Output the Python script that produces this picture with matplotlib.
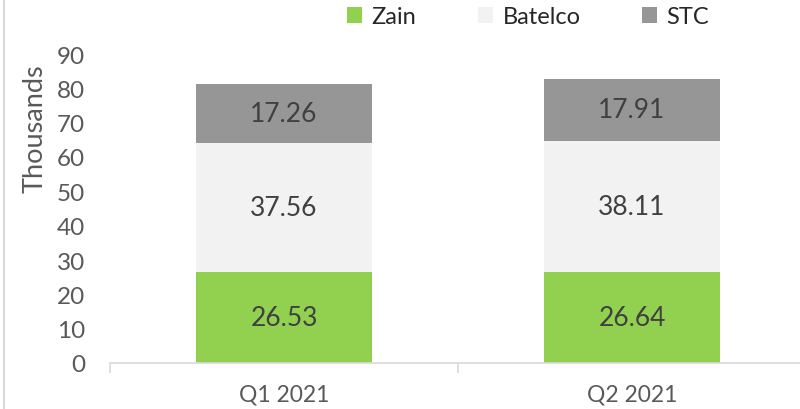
import matplotlib.pyplot as plt
import numpy as np

# data (thousands)
quarters = ['Q1 2021', 'Q2 2021']
zain = [26.53, 26.64]
batelco = [37.56, 38.11]
stc = [17.26, 17.91]

series = ['Zain', 'Batelco', 'STC']
colors = ['#92D050', '#F2F2F2', '#969696']

plt.rcParams['font.family'] = ['Lato', 'DejaVu Sans']

fig = plt.figure(figsize=(8, 4.1), dpi=100)
ax = fig.add_axes([110 / 800, 1 - 364 / 410, 696 / 800, 309 / 410])

x = np.arange(len(quarters))
bottom = np.zeros(len(quarters))
for name, vals, col in zip(series, [zain, batelco, stc], colors):
    bars = ax.bar(x, vals, width=0.503, bottom=bottom, color=col, label=name, zorder=2)
    ax.bar_label(bars, labels=[f'{v:.2f}' for v in vals], label_type='center',
                 fontsize=19, color='#404040')
    bottom += np.array(vals)

ax.set_xlim(-0.5, 1.5)
ax.set_ylim(0, 90)
ax.set_yticks(range(0, 91, 10))
ax.set_xticks(x)
ax.set_xticklabels(quarters)
ax.set_xticks([-0.5, 0.5, 1.5], minor=True)

for s in ['top', 'right', 'left']:
    ax.spines[s].set_visible(False)
ax.spines['bottom'].set_color('#D9D9D9')
ax.spines['bottom'].set_linewidth(1.2)

ax.tick_params(axis='y', length=0, labelsize=17.5, labelcolor='#595959', pad=18)
ax.tick_params(axis='x', which='major', length=0, labelsize=16.5, labelcolor='#595959', pad=15)
ax.tick_params(axis='x', which='minor', length=7, color='#D9D9D9', width=1.2)

ax.set_ylabel('Thousands', fontsize=19.5, color='#595959')
ax.yaxis.set_label_coords(-0.09, 0.76)

leg = fig.legend(loc='center', bbox_to_anchor=(528 / 800, 1 - 18 / 410), ncol=3, frameon=False,
                 fontsize=17, handlelength=0.65, handleheight=0.65, columnspacing=2.6,
                 handletextpad=0.4)
for t in leg.get_texts():
    t.set_color('#262626')

# chart frame edge on the left
fig.add_artist(plt.Line2D([4 / 800, 4 / 800], [0, 1], color='#D9D9D9', lw=1.5))

fig.savefig('out.png', dpi=100)
